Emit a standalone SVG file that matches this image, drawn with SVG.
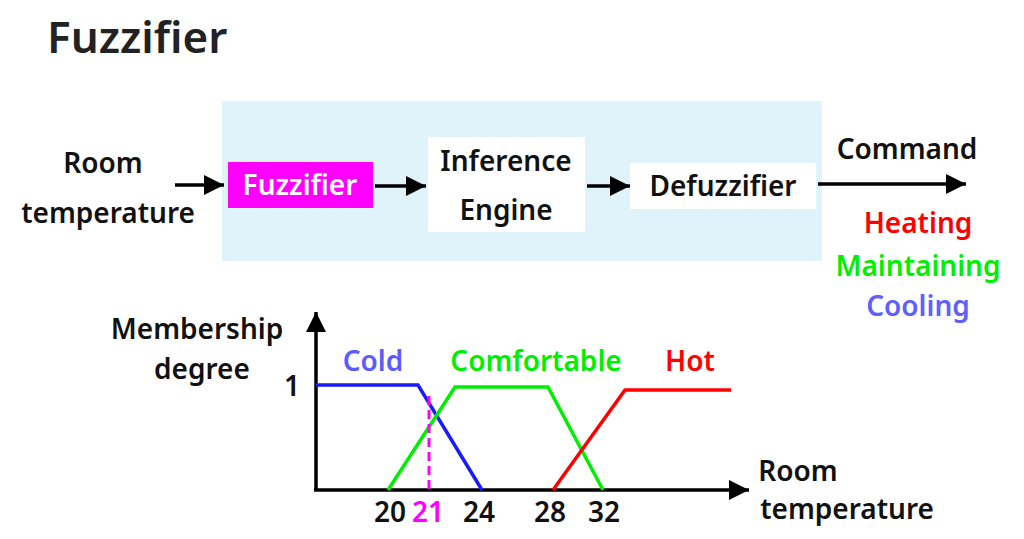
<svg xmlns="http://www.w3.org/2000/svg" width="1024" height="539" viewBox="0 0 1024 539">
<defs>
<marker id="ah2" markerWidth="22" markerHeight="20" refX="20" refY="10" orient="auto" markerUnits="userSpaceOnUse"><path d="M0,0 L20,10 L0,20 z" fill="#000"/></marker>
<style>
text{font-family:"Noto Sans","Open Sans",sans-serif;font-weight:600;font-size:28px;fill:#111;text-anchor:middle}
.ar{stroke:#000;stroke-width:3.5;fill:none;marker-end:url(#ah2)}
.ln{stroke-width:3.5;fill:none}
</style>
</defs>
<rect width="1024" height="539" fill="#fff"/>
<text x="47" y="53" style="text-anchor:start;font-size:44px;fill:#222">Fuzzifier</text>
<rect x="222" y="101" width="600" height="160" fill="#e1f3fa"/>
<g id="input"><text x="103" y="173">Room</text><text x="108" y="223">temperature</text></g>
<g id="fuzzifier"><rect x="228" y="162" width="145" height="46" fill="#ff00ff"/><text x="300" y="195" style="fill:#fff">Fuzzifier</text></g>
<g id="inference"><rect x="428" y="137" width="157" height="95" fill="#fff"/><text x="506" y="171">Inference</text><text x="506" y="220">Engine</text></g>
<g id="defuzzifier"><rect x="630" y="163" width="186" height="46" fill="#fff"/><text x="723" y="196">Defuzzifier</text></g>
<g id="command"><text x="907" y="159">Command</text>
<text x="918" y="233" style="fill:#ff0000">Heating</text>
<text x="918" y="276" style="fill:#00ee00">Maintaining</text>
<text x="918" y="316" style="fill:#6060ff">Cooling</text></g>
<g id="connectors">
<line class="ar" x1="175" y1="185" x2="224" y2="185"/>
<line class="ar" x1="375" y1="186" x2="426" y2="186"/>
<line class="ar" x1="587" y1="186" x2="630" y2="186"/>
<line class="ar" x1="818" y1="184" x2="966" y2="184"/>
</g>
<g id="chart">
<line class="ar" x1="316" y1="491" x2="316" y2="312"/>
<line class="ar" x1="314" y1="490" x2="749" y2="490"/>
<text x="197" y="339">Membership</text><text x="202" y="379">degree</text>
<text x="292" y="396">1</text>
<polyline class="ln" stroke="#1a1aff" points="316,385 418,385 482,490"/>
<polyline class="ln" stroke="#00ee00" points="388,490 455,387 548,387 603,490"/>
<polyline class="ln" stroke="#ff0000" points="553,490 625,390 731,390"/>
<line x1="429" y1="396" x2="429" y2="490" stroke="#ff00ff" stroke-width="3" stroke-dasharray="9,5"/>
<text x="373" y="371" style="fill:#5b5bff">Cold</text>
<text x="536" y="371" style="fill:#00ee00">Comfortable</text>
<text x="690" y="371" style="fill:#ff0000">Hot</text>
<text x="390" y="522">20</text><text x="428" y="522" style="fill:#ff00ff">21</text>
<text x="479" y="522">24</text><text x="550" y="522">28</text><text x="604" y="522">32</text>
<text x="798" y="481">Room</text><text x="847" y="519">temperature</text>
</g>
</svg>
